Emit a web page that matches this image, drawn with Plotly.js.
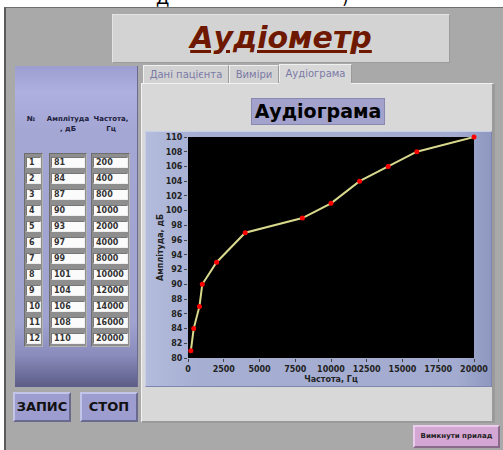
<!DOCTYPE html>
<html>
<head>
<meta charset="utf-8">
<script src="https://cdn.plot.ly/plotly-3.0.1.min.js"></script>
<style>
  html,body{margin:0;padding:0;background:#fff;}
  #page{position:relative;width:503px;height:450px;overflow:hidden;background:#fff;font-family:"DejaVu Sans",Verdana,sans-serif;}
  .abs{position:absolute;box-sizing:border-box;}
  .cell{position:absolute;box-sizing:border-box;background:#fbfbfb;border-top:1px solid #777;border-left:1px solid #777;border-bottom:1px solid #eee;border-right:1px solid #eee;font-size:8px;font-weight:bold;color:#333;line-height:9px;padding-left:2px;font-family:"DejaVu Sans",sans-serif;}
  .col{position:absolute;box-sizing:border-box;background:#8e8e8e;border:1px solid #6e6e6e;border-right-color:#b4b4b4;border-bottom-color:#b4b4b4;}
  .hdr{position:absolute;font-size:7px;font-weight:bold;color:#1c1c3c;text-align:center;line-height:10px;}
  .btn{position:absolute;box-sizing:border-box;background:#9d9dcf;border:2px solid #6a6a8e;border-top-color:#c4c4e8;border-left-color:#c4c4e8;font-weight:bold;color:#111;text-align:center;}
  .tab{position:absolute;box-sizing:border-box;background:#d2d2d2;border:1px solid #f0f0f0;border-right-color:#9a9a9a;border-bottom:none;font-size:10px;color:#7a7aa6;text-align:center;line-height:17px;}
</style>
</head>
<body>
<div id="page">
  <!-- partial document text at top (cut off in the reference too) -->
  <div class="abs" style="left:156px;top:-12px;font-size:17px;color:#000;font-family:'DejaVu Sans';">Д</div>
  <div class="abs" style="left:342px;top:-12px;font-size:17px;color:#000;font-family:'DejaVu Sans';">)</div>
  <!-- main grey panel -->
  <div class="abs" style="left:4px;top:7px;width:499px;height:443px;background:#a9a9a9;border-left:2px solid #5a5a5a;border-top:1px solid #6e6e6e;"></div>
  <!-- title box -->
  <div class="abs" style="left:112px;top:14px;width:338px;height:49px;background:#d3d3d3;border:1px solid #e4e4e4;border-right-color:#9c9c9c;border-bottom-color:#9c9c9c;"></div>
  <div class="abs" style="left:112px;top:14px;width:338px;height:49px;text-align:center;line-height:48px;font-size:30px;font-weight:bold;font-style:italic;text-decoration:underline;color:#6e1800;font-family:'DejaVu Sans';">Аудіометр</div>
  <!-- left purple panel -->
  <div class="abs" style="left:15px;top:66px;width:123px;height:321px;background:linear-gradient(to bottom,#9c9ed0 0%,#aeb0e0 8%,#a4a6d4 20%,#a0a2d0 80%,#8a8cbc 90%,#5c5c86 100%);border-right:1px solid #6a6a90;"></div>
  <div id="table"></div>
  <!-- buttons -->
  <div class="btn" style="left:13px;top:392px;width:58px;height:30px;font-size:13px;line-height:26px;">ЗАПИС</div>
  <div class="btn" style="left:80px;top:392px;width:58px;height:30px;font-size:13px;line-height:26px;">СТОП</div>
  <!-- tabs -->
  <div class="tab" style="left:143px;top:65px;width:86px;height:19px;">Дані пацієнта</div>
  <div class="tab" style="left:229px;top:65px;width:50px;height:19px;">Виміри</div>
  <div class="tab" style="left:279px;top:64px;width:73px;height:20px;background:#d8d8d8;">Аудіограма</div>
  <!-- tab page -->
  <div class="abs" style="left:141px;top:83px;width:354px;height:340px;background:#d8d8d8;border:1px solid #f2f2f2;border-right:3px solid #9a9a9a;border-bottom:2px solid #9a9a9a;"></div>
  <div class="abs" style="left:279px;top:82px;width:72px;height:3px;background:#d8d8d8;"></div>
  <!-- graph label -->
  <div class="abs" style="left:251px;top:98px;width:134px;height:27px;background:#a2a2cc;border:1px solid #8888b0;text-align:center;line-height:25px;font-size:19px;font-weight:bold;color:#000;">Аудіограма</div>
  <!-- graph frame + plot -->
  <div class="abs" style="left:145px;top:131px;width:347px;height:256px;background:linear-gradient(to right,#b4bcdc 0%,#a6afd2 15%,#a3acd0 90%,#8e98c0 100%);border:1px solid #c8cfe6;border-right-color:#7c86ae;border-bottom-color:#7c86ae;"></div>
  <div id="plot" class="abs" style="left:145px;top:131px;width:347px;height:256px;"></div>
  <!-- power off button -->
  <div class="btn" style="left:413px;top:425px;width:87px;height:23px;background:#d4a6d4;border-color:#ecccec #8a6a8a #8a6a8a #ecccec;font-size:7px;line-height:19px;color:#222;">Вимкнути прилад</div>
</div>
<script>
// ---- data ----
var rowNumbers  = [1, 2, 3, 4, 5, 6, 7, 8, 9, 10, 11, 12];
var amplitudes  = [81, 84, 87, 90, 93, 97, 99, 101, 104, 106, 108, 110];
var frequencies = [200, 400, 800, 1000, 2000, 4000, 8000, 10000, 12000, 14000, 16000, 20000];
var xTickVals   = [0, 2500, 5000, 7500, 10000, 12500, 15000, 17500, 20000];
var yTickVals   = [80, 82, 84, 86, 88, 90, 92, 94, 96, 98, 100, 102, 104, 106, 108, 110];
var colHeaders  = ["№", "Амплітуда<br>, дБ", "Частота,<br>Гц"];

// ---- table (UI) ----
(function(){
  var t = document.getElementById('table');
  var cols = [
    {left:24, width:19, vals:rowNumbers, hx:20, hw:22},
    {left:49, width:38, vals:amplitudes, hx:42, hw:52},
    {left:91, width:39, vals:frequencies, hx:88, hw:46}
  ];
  var html = '';
  cols.forEach(function(c, ci){
    html += '<div class="hdr" style="left:'+c.hx+'px;top:114px;width:'+c.hw+'px;">'+colHeaders[ci]+'</div>';
    html += '<div class="col" style="left:'+c.left+'px;top:153px;width:'+c.width+'px;height:194px;"></div>';
    c.vals.forEach(function(v, i){
      html += '<div class="cell" style="left:'+(c.left+2)+'px;top:'+(157+16*i)+'px;width:'+(c.width-4)+'px;height:11px;">'+v+'</div>';
    });
  });
  t.innerHTML = html;
})();

// ---- chart ----
var tickFont = {family:"DejaVu Sans", size:8, color:"#222", weight:"bold"};
var trace = {
  x: frequencies, y: amplitudes, type:'scatter', mode:'lines+markers',
  line:{color:'#d9d98e', width:2},
  marker:{color:'#ff0000', size:5},
  cliponaxis:false, hoverinfo:'skip'
};
var layout = {
  width:347, height:256,
  margin:{l:43, r:18, t:6, b:29, pad:0},
  paper_bgcolor:'rgba(0,0,0,0)', plot_bgcolor:'#000000',
  showlegend:false,
  xaxis:{range:[0,20000], tickvals:xTickVals, ticktext:xTickVals.map(String),
         ticks:'outside', ticklen:3, tickcolor:'#444', showgrid:false, zeroline:false,
         showline:false, tickfont:tickFont, fixedrange:true,
         title:{text:'Частота, Гц', font:tickFont, standoff:3}},
  yaxis:{range:[80,110], tickvals:yTickVals, ticktext:yTickVals.map(String),
         ticks:'outside', ticklen:3, tickcolor:'#444', showgrid:false, zeroline:false,
         showline:false, tickfont:tickFont, fixedrange:true,
         title:{text:'Амплітуда, дБ', font:tickFont, standoff:0}}
};
Plotly.newPlot('plot', [trace], layout, {staticPlot:true, displayModeBar:false});
</script>
</body>
</html>
